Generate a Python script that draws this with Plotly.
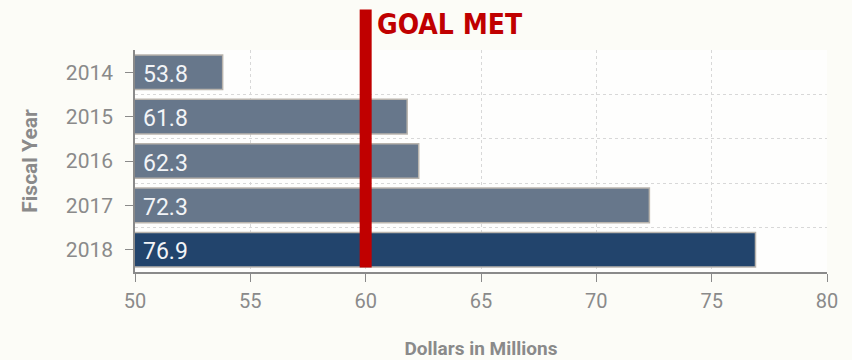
import plotly.graph_objects as go

# Fiscal year totals, dollars in millions
years = ["2014", "2015", "2016", "2017", "2018"]
values = [53.8, 61.8, 62.3, 72.3, 76.9]
goal = 60
x_ticks = [50, 55, 60, 65, 70, 75, 80]
x_min, x_max = 50, 80

bar_colors = ["#67778b"] * (len(years) - 1) + ["#22446c"]
positions = list(range(len(years)))

fig = go.Figure()
fig.add_trace(go.Bar(
    x=values,
    y=positions,
    orientation="h",
    width=0.78,
    marker=dict(color=bar_colors, line=dict(color="#b9b4ad", width=1.5)),
    hoverinfo="skip",
))

# value labels at the left end of each bar
for p, v in zip(positions, values):
    fig.add_annotation(x=x_min, y=p, xref="x", yref="y",
                       xanchor="left", yanchor="middle", xshift=6, yshift=-2,
                       text=f"{v:.1f}", showarrow=False,
                       font=dict(family="Roboto", size=23, color="#f2f4f7"))

# goal marker
fig.add_shape(type="line", xref="x", yref="paper",
              x0=goal, x1=goal, y0=0.02, y1=1.182,
              line=dict(color="#c00000", width=12))
fig.add_annotation(xref="x", yref="paper", x=goal, y=1.2,
                   xanchor="left", yanchor="top", xshift=9,
                   text="<b>GOAL MET</b>", showarrow=False,
                   font=dict(family="DejaVu Sans Condensed, sans-serif",
                             size=28, color="#c00000"))

fig.update_layout(
    width=852, height=360,
    margin=dict(l=135, r=25, t=49.5, b=87.5, autoexpand=False),
    paper_bgcolor="#fcfcf7",
    plot_bgcolor="#fefefd",
    showlegend=False,
    font=dict(family="Roboto", color="#888888"),
)
fig.update_xaxes(
    range=[x_min, x_max], tickvals=x_ticks,
    automargin=False,
    showgrid=True, gridcolor="#d8d8d8", griddash="3px,3px", gridwidth=1,
    showline=True, linecolor="#8a8a8a", linewidth=1.5,
    ticks="outside", ticklen=8, tickcolor="#8a8a8a",
    ticklabelstandoff=2,
    tickfont=dict(family="Roboto", size=20, color="#8a8a8a"),
    title=dict(text="<b>Dollars in Millions</b>", standoff=40,
               font=dict(family="Roboto", size=19, color="#8a8a8a")),
    zeroline=False,
)
fig.update_yaxes(
    range=[len(years) - 0.5, -0.5],
    tickvals=positions, ticktext=years,
    automargin=False,
    showgrid=False,
    minor=dict(tick0=0.5, dtick=1, showgrid=True, gridcolor="#d8d8d8",
               griddash="3px,3px", ticks=""),
    showline=True, linecolor="#8a8a8a", linewidth=1.5,
    ticks="outside", ticklen=8, tickcolor="#8a8a8a",
    ticklabelstandoff=8,
    tickfont=dict(family="Roboto", size=21, color="#8a8a8a"),
    title=dict(text="<b>Fiscal Year</b>", standoff=22,
               font=dict(family="Roboto", size=21, color="#8a8a8a")),
    zeroline=False,
)

fig.write_html("out.html")
